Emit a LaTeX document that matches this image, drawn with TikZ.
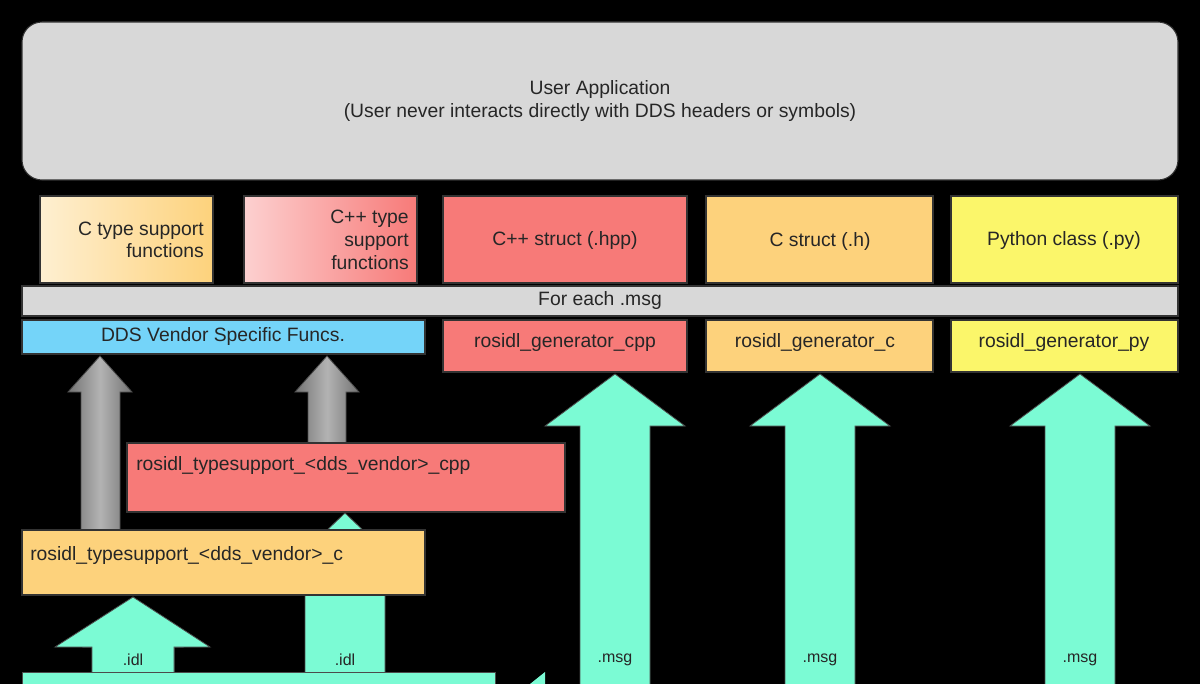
\documentclass[tikz,border=0pt]{standalone}
\usepackage{fontspec}
\setmainfont{Liberation Sans}
\usetikzlibrary{fit}
\definecolor{bgray}{HTML}{D8D8D8}
\definecolor{ored}{HTML}{F77A78}
\definecolor{oorg}{HTML}{FDD27C}
\definecolor{oyel}{HTML}{FBF66A}
\definecolor{oblu}{HTML}{74D4F9}
\definecolor{ocyn}{HTML}{7BFBD4}
\tikzset{
 box/.style={draw=black!80, line width=0.8pt, inner sep=0pt},
 txt/.style={font=\fontsize{14.5}{17}\selectfont, text=black!85, inner sep=0pt},
 small/.style={font=\fontsize{12}{14}\selectfont, text=black!85, inner sep=0pt},
 cyarrow/.style={fill=ocyn, draw=black!70, line width=0.6pt},
 grarrow/.style={left color=black!55, right color=black!55, middle color=black!30, draw=black!70, line width=0.6pt},
}
\begin{document}
\begin{tikzpicture}[x=0.75pt,y=-0.75pt]
\fill[black] (0,0) rectangle (1200,684);
\useasboundingbox (0,0) rectangle (1200,684);
% User application
\node[box, fill=bgray, rounded corners=15pt, fit={(22,22)(1178,180)}] (app) {};
\node[txt, align=center] (apptxt) at (600,101) {User Application\\(User never interacts directly with DDS headers or symbols)};
% top row
\node[box, left color=oorg!35, right color=oorg, fit={(40,196)(213,283)}] (ctype) {};
\node[txt, align=right, anchor=east] at (204,240) {C type support\\functions};
\node[box, left color=ored!35, right color=ored, fit={(244,196)(417,283)}] (cpptype) {};
\node[txt, align=right, anchor=east] at (409,240) {C++ type\\support\\functions};
\node[box, fill=ored, fit={(443,196)(687,283)}] (cppstruct) {};
\node[txt] at (565,241) {C++ struct (.hpp)};
\node[box, fill=oorg, fit={(706,196)(933,283)}] (cstruct) {};
\node[txt] at (820,241) {C struct (.h)};
\node[box, fill=oyel, fit={(951,196)(1178,283)}] (pyclass) {};
\node[txt] at (1064,241) {Python class (.py)};
% for each bar
\node[box, fill=bgray, fit={(22,286)(1178,316)}] (foreach) {};
\node[txt] at (600,301) {For each .msg};
% second row
\node[box, fill=oblu, fit={(22,320)(425,354)}] (dds) {};
\node[txt] at (223,337) {DDS Vendor Specific Funcs.};
\node[box, fill=ored, fit={(443,320)(687,372)}] (gcpp) {};
\node[txt] at (565,343) {rosidl\_generator\_cpp};
\node[box, fill=oorg, fit={(706,320)(933,372)}] (gc) {};
\node[txt] at (815,343) {rosidl\_generator\_c};
\node[box, fill=oyel, fit={(951,320)(1178,372)}] (gpy) {};
\node[txt] at (1064,343) {rosidl\_generator\_py};
% gray arrows
\path[grarrow] (100,356) -- (132,392) -- (120,392) -- (120,532) -- (81,532) -- (81,392) -- (68,392) -- cycle;
\path[grarrow] (327,356) -- (359,392) -- (346,392) -- (346,445) -- (308,445) -- (308,392) -- (295,392) -- cycle;
% idl arrow 2 (behind c box)
\path[cyarrow] (345,513) -- (410,575) -- (385,575) -- (385,684) -- (305,684) -- (305,575) -- (280,575) -- cycle;
% typesupport boxes
\node[box, fill=ored, fit={(127,443)(565,512)}] (tscpp) {};
\node[txt, anchor=west] at (136,466) {rosidl\_typesupport\_<dds\_vendor>\_cpp};
\node[box, fill=oorg, fit={(22,530)(425,595)}] (tsc) {};
\node[txt, anchor=west] at (30,555) {rosidl\_typesupport\_<dds\_vendor>\_c};
% idl arrow 1
\path[cyarrow] (133,597) -- (183,647) -- (174,647) -- (174,684) -- (92,684) -- (92,647) -- (83,647) -- cycle;
% hmm head wider
\path[cyarrow] (133,597) -- (210,647) -- (174,647) -- (174,684) -- (92,684) -- (92,647) -- (55,647) -- cycle;
\node[small] (idl1) at (133,660) {.idl};
\node[small] (idl2) at (345,660) {.idl};
% bottom bar
\path[fill=ocyn, draw=black!70] (22,672) rectangle (495,690);
\path[fill=ocyn] (530,684) -- (545,672) -- (545,684) -- cycle;
% msg arrows
\foreach \cx/\nm in {615/m1,820/m2,1080/m3}{
 \path[cyarrow] (\cx,374) -- (\cx+70,426) -- (\cx+35,426) -- (\cx+35,690) -- (\cx-35,690) -- (\cx-35,426) -- (\cx-70,426) -- cycle;
 \node[small] (\nm) at (\cx,660) {.msg};
}
\end{tikzpicture}
\end{document}
